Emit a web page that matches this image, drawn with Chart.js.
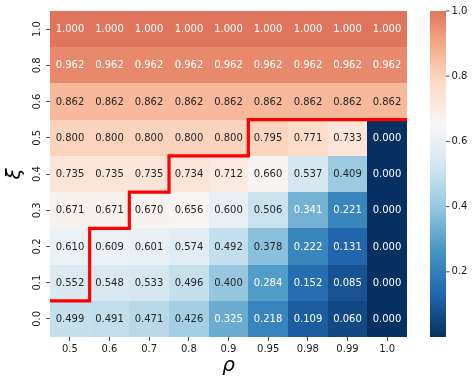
<!DOCTYPE html>
<html>
<head>
<meta charset="utf-8">
<script src="https://cdn.jsdelivr.net/npm/chart.js@4.4.1/dist/chart.umd.min.js"></script>
<style>
  html, body { margin: 0; padding: 0; background: #fff; }
  canvas { display: block; }
</style>
</head>
<body>
<canvas id="heat" width="476" height="383"></canvas>
<script>
/* heatmap ξ × ρ (RdBu_r, centrado em ~0.65) */
const rhoLabels = ["0.5", "0.6", "0.7", "0.8", "0.9", "0.95", "0.98", "0.99", "1.0"];
const xiLabels = ["0.0", "0.1", "0.2", "0.3", "0.4", "0.5", "0.6", "0.8", "1.0"]; // de baixo para cima

// uma linha por ξ (mesma ordem de xiLabels)
const xi00 = [0.499, 0.491, 0.471, 0.426, 0.325, 0.218, 0.109, 0.060, 0.000];
const xi01 = [0.552, 0.548, 0.533, 0.496, 0.400, 0.284, 0.152, 0.085, 0.000];
const xi02 = [0.610, 0.609, 0.601, 0.574, 0.492, 0.378, 0.222, 0.131, 0.000];
const xi03 = [0.671, 0.671, 0.670, 0.656, 0.600, 0.506, 0.341, 0.221, 0.000];
const xi04 = [0.735, 0.735, 0.735, 0.734, 0.712, 0.660, 0.537, 0.409, 0.000];
const xi05 = [0.800, 0.800, 0.800, 0.800, 0.800, 0.795, 0.771, 0.733, 0.000];
const xi06 = [0.862, 0.862, 0.862, 0.862, 0.862, 0.862, 0.862, 0.862, 0.862];
const xi08 = [0.962, 0.962, 0.962, 0.962, 0.962, 0.962, 0.962, 0.962, 0.962];
const xi10 = [1.000, 1.000, 1.000, 1.000, 1.000, 1.000, 1.000, 1.000, 1.000];
const rows = [xi00, xi01, xi02, xi03, xi04, xi05, xi06, xi08, xi10];

// nº de linhas abaixo da fronteira vermelha, por coluna de ρ
const boundaryRows = [1, 3, 4, 5, 5, 6, 6, 6, 6];
const cbTicks = [0.2, 0.4, 0.6, 0.8, 1.0];

const vmin = 0, vmax = 1, center = 0.65;
const FONT = "'DejaVu Sans', sans-serif";
const TEXT = "#1a1a1a";

// matplotlib RdBu (invertido = RdBu_r)
const rdbu = [
  [103, 0, 31], [178, 24, 43], [214, 96, 77], [244, 165, 130], [253, 219, 199],
  [247, 247, 247], [209, 229, 240], [146, 197, 222], [67, 147, 195], [33, 102, 172], [5, 48, 97],
].reverse();

function cmapAt(t) {
  t = Math.min(1, Math.max(0, t)) * (rdbu.length - 1);
  const i = Math.min(rdbu.length - 2, Math.floor(t));
  const f = t - i;
  return rdbu[i].map((c, k) => Math.round(c + (rdbu[i + 1][k] - c) * f));
}
function colorFor(v) {
  const vr = Math.max(vmax - center, center - vmin);
  return cmapAt((v - (center - vr)) / (2 * vr));
}
function lum(rgb) {
  const l = rgb.map((c) => { c /= 255; return c <= 0.03928 ? c / 12.92 : Math.pow((c + 0.055) / 1.055, 2.4); });
  return 0.2126 * l[0] + 0.7152 * l[1] + 0.0722 * l[2];
}
const css = (rgb) => `rgb(${rgb[0]},${rgb[1]},${rgb[2]})`;

// fronteira em coordenadas de índice
const boundary = [];
boundaryRows.forEach((b, i) => {
  boundary.push({ x: i - 0.5, y: b - 0.5 });
  boundary.push({ x: i + 0.5, y: b - 0.5 });
});

const heatPlugin = {
  id: "heat",
  beforeDatasetsDraw(chart) {
    const { ctx, scales: { x, y } } = chart;
    ctx.save();
    rows.forEach((row, r) => {
      row.forEach((v, c) => {
        const x0 = Math.round(x.getPixelForValue(c - 0.5));
        const x1 = Math.round(x.getPixelForValue(c + 0.5));
        const y0 = Math.round(y.getPixelForValue(r + 0.5));
        const y1 = Math.round(y.getPixelForValue(r - 0.5));
        const rgb = colorFor(v);
        ctx.fillStyle = css(rgb);
        ctx.fillRect(x0, y0, x1 - x0, y1 - y0);
        ctx.fillStyle = lum(rgb) > 0.408 ? "#262626" : "#ffffff";
        ctx.font = "10px " + FONT;
        ctx.textAlign = "center";
        ctx.textBaseline = "middle";
        ctx.fillText(v.toFixed(3), (x0 + x1) / 2, (y0 + y1) / 2 + 0.5);
      });
    });
    ctx.restore();
  },
  afterDraw(chart) {
    // barra de cores
    const { ctx, chartArea, scales: { cb } } = chart;
    const left = chartArea.right + 23, w = 16;
    ctx.save();
    const top = Math.round(cb.getPixelForValue(vmax));
    const bot = Math.round(cb.getPixelForValue(vmin));
    for (let py = top; py < bot; py++) {
      ctx.fillStyle = css(colorFor(cb.getValueForPixel(py + 0.5)));
      ctx.fillRect(left, py, w, 1);
    }
    ctx.strokeStyle = TEXT;
    ctx.lineWidth = 0.8;
    ctx.fillStyle = TEXT;
    ctx.font = "10px " + FONT;
    ctx.textAlign = "left";
    ctx.textBaseline = "middle";
    cbTicks.forEach((t) => {
      const py = cb.getPixelForValue(t);
      ctx.beginPath();
      ctx.moveTo(left + w, py);
      ctx.lineTo(left + w + 3.5, py);
      ctx.stroke();
      ctx.fillText(t.toFixed(1), left + w + 5.5, py);
    });
    ctx.restore();
  },
};

const tickGrid = { display: true, drawOnChartArea: false, drawTicks: true, tickLength: 4, color: TEXT, lineWidth: 0.8 };

new Chart(document.getElementById("heat"), {
  type: "scatter",
  data: {
    datasets: [{
      type: "line",
      data: boundary,
      borderColor: "#ff0000",
      borderWidth: 3.2,
      pointRadius: 0,
      tension: 0,
      borderCapStyle: "butt",
      borderJoinStyle: "miter",
      fill: false,
    }],
  },
  options: {
    responsive: false,
    animation: false,
    devicePixelRatio: 1,
    layout: { padding: { top: 11, right: 69, bottom: 0, left: 0 } },
    plugins: { legend: { display: false }, tooltip: { enabled: false } },
    scales: {
      x: {
        type: "linear", min: -0.5, max: 8.5,
        afterBuildTicks: (s) => { s.ticks = rhoLabels.map((_, i) => ({ value: i })); },
        afterFit: (s) => { s.height = 46; },
        ticks: { callback: (v) => rhoLabels[v], font: { family: FONT, size: 10 }, color: TEXT, padding: 2, maxRotation: 0, autoSkip: false },
        grid: tickGrid,
        border: { display: false },
        title: { display: true, text: "ρ", font: { family: FONT, size: 20, style: "italic" }, color: "#000", padding: { top: 0, bottom: 5 } },
      },
      y: {
        type: "linear", min: -0.5, max: 8.5,
        afterBuildTicks: (s) => { s.ticks = xiLabels.map((_, i) => ({ value: i })); },
        afterFit: (s) => { s.width = 50; },
        ticks: { callback: (v) => xiLabels[v], font: { family: FONT, size: 10 }, color: TEXT, padding: 1, minRotation: 90, maxRotation: 90, crossAlign: "center", autoSkip: false },
        grid: tickGrid,
        border: { display: false },
        title: { display: true, text: "ξ", font: { family: FONT, size: 20, style: "italic" }, color: "#000", padding: { top: 3, bottom: 0 } },
      },
      cb: { type: "linear", position: "right", display: false, min: vmin, max: vmax },
    },
  },
  plugins: [heatPlugin],
});
</script>
</body>
</html>
